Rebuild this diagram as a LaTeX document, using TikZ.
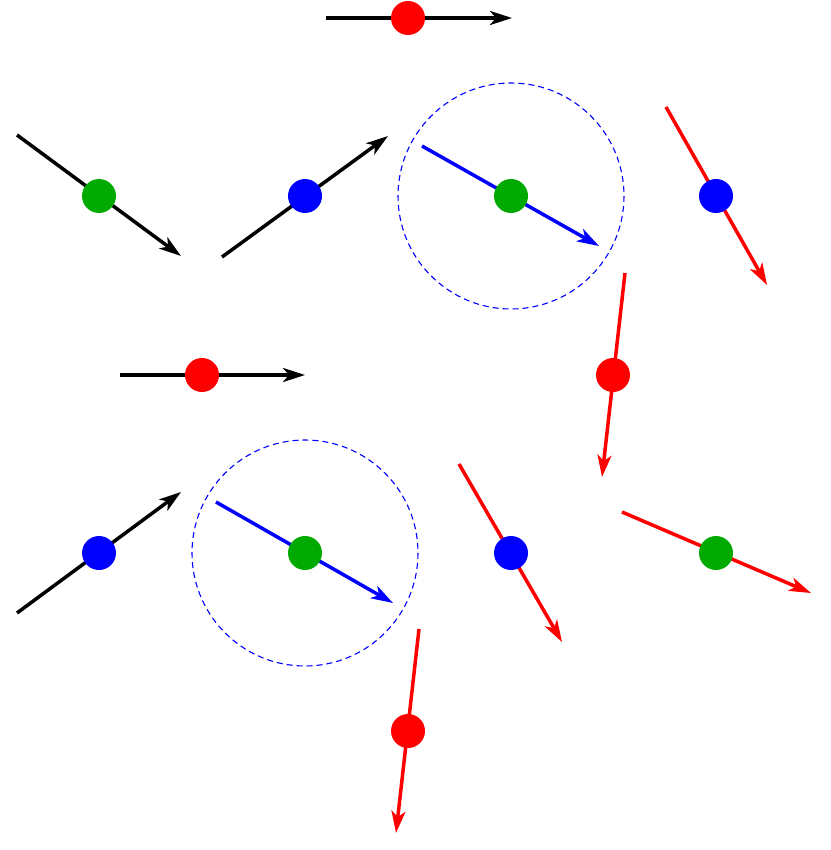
\documentclass[tikz,border=0pt]{standalone}
\usetikzlibrary{arrows.meta}
\definecolor{dgreen}{RGB}{0,170,0}
\begin{document}
\begin{tikzpicture}[x=1pt,y=-1pt,
  arr/.style={line width=3.5pt,-{Stealth[length=22pt,width=14pt,inset=6pt]}},
  dot/.style={circle,inner sep=0pt,minimum size=34pt},
  ring/.style={draw=blue,dashed,line width=1.1pt,dash pattern=on 6pt off 4pt}]
\useasboundingbox (0,0) rectangle (830,850);
% arrows first
\coordinate (a1s) at (326,18); \coordinate (a1e) at (512,18);
\coordinate (a2s) at (17,135); \coordinate (a2e) at (181,256);
\coordinate (a3s) at (222,257); \coordinate (a3e) at (388,136);
\coordinate (a4s) at (422,146); \coordinate (a4e) at (599,246);
\coordinate (a5s) at (666,107); \coordinate (a5e) at (767,285);
\coordinate (a6s) at (120,375); \coordinate (a6e) at (305,375);
\coordinate (a7s) at (625,273); \coordinate (a7e) at (602,477);
\coordinate (a8s) at (17,613); \coordinate (a8e) at (181,492);
\coordinate (a9s) at (216,502); \coordinate (a9e) at (393,603);
\coordinate (a10s) at (459,464); \coordinate (a10e) at (562,642);
\coordinate (a11s) at (622,512); \coordinate (a11e) at (811,593);
\coordinate (a12s) at (419,629); \coordinate (a12e) at (396,833);
\draw[ring] (511,196) circle (113);
\draw[ring] (305,553) circle (113);
\draw[arr,black] (a1s) -- (a1e);
\draw[arr,black] (a2s) -- (a2e);
\draw[arr,black] (a3s) -- (a3e);
\draw[arr,blue] (a4s) -- (a4e);
\draw[arr,red] (a5s) -- (a5e);
\draw[arr,black] (a6s) -- (a6e);
\draw[arr,red] (a7s) -- (a7e);
\draw[arr,black] (a8s) -- (a8e);
\draw[arr,blue] (a9s) -- (a9e);
\draw[arr,red] (a10s) -- (a10e);
\draw[arr,red] (a11s) -- (a11e);
\draw[arr,red] (a12s) -- (a12e);
\node[dot,fill=red] (d1) at (408,18) {};
\node[dot,fill=dgreen] (d2) at (99,196) {};
\node[dot,fill=blue] (d3) at (305,196) {};
\node[dot,fill=dgreen] (d4) at (511,196) {};
\node[dot,fill=blue] (d5) at (716,196) {};
\node[dot,fill=red] (d6) at (202,375) {};
\node[dot,fill=red] (d7) at (613,375) {};
\node[dot,fill=blue] (d8) at (99,553) {};
\node[dot,fill=dgreen] (d9) at (305,553) {};
\node[dot,fill=blue] (d10) at (511,553) {};
\node[dot,fill=dgreen] (d11) at (716,553) {};
\node[dot,fill=red] (d12) at (408,731) {};
\end{tikzpicture}
\end{document}
